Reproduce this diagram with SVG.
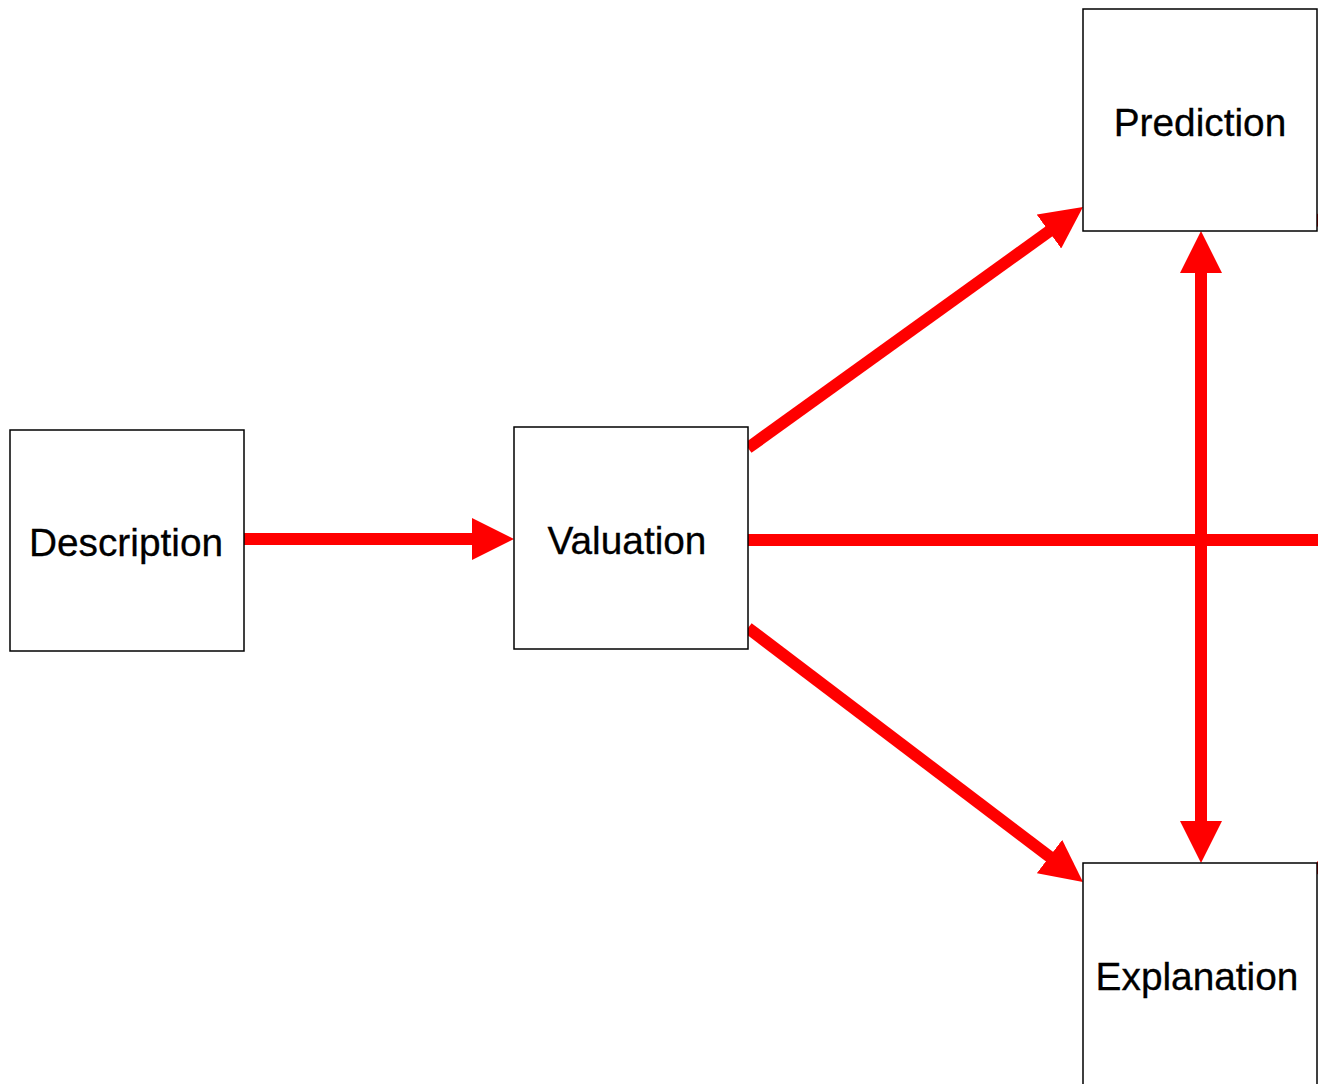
<svg xmlns="http://www.w3.org/2000/svg" width="1318" height="1084" viewBox="0 0 1318 1084">
<style>
.box{fill:#fff;stroke:#000;stroke-width:1.5}
.lbl{font-family:"Liberation Sans",Arial,sans-serif;font-size:38.8px;fill:#000;text-anchor:middle;stroke:#000;stroke-width:0.3}
.edge{stroke:#f00;stroke-width:12;fill:none}
</style>
<defs>
<marker id="ah" markerUnits="userSpaceOnUse" markerWidth="42" markerHeight="42" viewBox="0 0 42 42" refX="1" refY="21" orient="auto-start-reverse">
<path d="M0,0 L42,21 L0,42 z" fill="#f00"/>
</marker>
</defs>
<rect width="1318" height="1084" fill="#fff"/>
<g id="connectors">
<line class="edge" x1="244" y1="539" x2="473" y2="539" marker-end="url(#ah)"/>
<line class="edge" x1="748" y1="540" x2="1330" y2="540"/>
<line class="edge" x1="748" y1="448" x2="1049.7" y2="230.9" marker-end="url(#ah)"/>
<line class="edge" x1="748" y1="628" x2="1050.3" y2="857.2" marker-end="url(#ah)"/>
<line class="edge" x1="1201" y1="272" x2="1201" y2="822" marker-start="url(#ah)" marker-end="url(#ah)"/>
<line class="edge" x1="1315" y1="223" x2="1340" y2="205"/>
<line class="edge" x1="1315" y1="865" x2="1340" y2="883"/>
</g>
<g id="description">
<rect class="box" x="10" y="430" width="234" height="221"/>
<text class="lbl" x="126" y="556">Description</text>
</g>
<g id="valuation">
<rect class="box" x="514" y="427" width="234" height="222"/>
<text class="lbl" x="627" y="554">Valuation</text>
</g>
<g id="prediction">
<rect class="box" x="1083" y="9" width="234" height="222"/>
<text class="lbl" x="1200" y="136">Prediction</text>
</g>
<g id="explanation">
<rect class="box" x="1083" y="863" width="234" height="240"/>
<text class="lbl" x="1197" y="990">Explanation</text>
</g>
</svg>
